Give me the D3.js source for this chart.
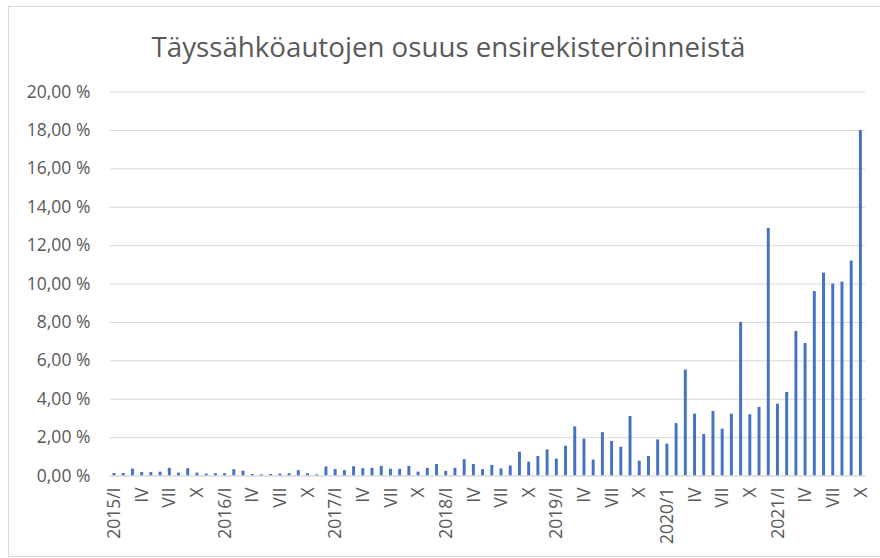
<!DOCTYPE html>
<html>
<head>
<meta charset="utf-8">
<script src="https://cdn.jsdelivr.net/npm/d3@7"></script>
<style>
  body { margin: 0; background: #fff; }
  text { font-family: "Open Sans", sans-serif; fill: #595959; }
</style>
</head>
<body>
<div id="chart"></div>
<script>
// chart data: share of full-electric cars in first registrations (%)
var years = ["2015", "2016", "2017", "2018", "2019", "2020", "2021"];
var months = ["I", "II", "III", "IV", "V", "VI", "VII", "VIII", "IX", "X", "XI", "XII"];

var v2015 = [0.13, 0.13, 0.36, 0.18, 0.18, 0.20, 0.40, 0.15, 0.38, 0.15, 0.10, 0.12];
var v2016 = [0.12, 0.33, 0.25, 0.08, 0.06, 0.08, 0.10, 0.12, 0.28, 0.12, 0.06, 0.47];
var v2017 = [0.34, 0.28, 0.48, 0.38, 0.40, 0.50, 0.35, 0.35, 0.50, 0.20, 0.40, 0.60];
var v2018 = [0.24, 0.40, 0.85, 0.60, 0.33, 0.55, 0.37, 0.52, 1.24, 0.72, 1.02, 1.36];
var v2019 = [0.88, 1.55, 2.56, 1.92, 0.83, 2.26, 1.80, 1.50, 3.10, 0.77, 1.02, 1.88];
var v2020 = [1.66, 2.73, 5.52, 3.22, 2.16, 3.36, 2.44, 3.22, 8.00, 3.19, 3.57, 12.90];
var v2021 = [3.74, 4.35, 7.53, 6.90, 9.61, 10.57, 10.00, 10.10, 11.20, 18.00];

// y axis ticks
var yTicks = [0, 2, 4, 6, 8, 10, 12, 14, 16, 18, 20];

// months that get a label on the x axis (year label on January)
var shownMonths = ["I", "IV", "VII", "X"];
var janLabel = {"2020": "2020/1"};

// build one row per month
var series = [v2015, v2016, v2017, v2018, v2019, v2020, v2021];
var data = [];
years.forEach(function(y, i) {
  series[i].forEach(function(v, j) {
    var lab = "";
    if (j == 0) lab = janLabel[y] || (y + "/I");
    else if (shownMonths.indexOf(months[j]) >= 0) lab = months[j];
    data.push({key: y + "/" + months[j], label: lab, value: v});
  });
});

var W = 880, H = 558;
var margin = {top: 91.6, right: 15, bottom: 82.5, left: 109.4},
    width = W - margin.left - margin.right,
    height = H - margin.top - margin.bottom;

var svg = d3.select("#chart")
  .append("svg")
    .attr("width", W)
    .attr("height", H);

// chart border (right side runs off the picture)
svg.append("rect")
  .attr("x", 8.5).attr("y", 6.5)
  .attr("width", 900).attr("height", 550)
  .attr("fill", "none")
  .attr("stroke", "#d9d9d9");

// title
svg.append("text")
  .attr("x", 448.5)
  .attr("y", 57)
  .attr("text-anchor", "middle")
  .style("font-size", "27.7px")
  .text("Täyssähköautojen osuus ensirekisteröinneistä");

var g = svg.append("g")
  .attr("transform", "translate(" + margin.left + "," + margin.top + ")");

var x = d3.scaleBand()
  .domain(data.map(function(d) { return d.key; }))
  .range([0, width])
  .paddingInner(0.68)
  .paddingOuter(0.34);

var y = d3.scaleLinear()
  .domain([0, 20])
  .range([height, 0]);

// gridlines + y labels
var yAxis = g.append("g")
  .call(d3.axisLeft(y)
    .tickValues(yTicks)
    .tickSize(-width)
    .tickPadding(19)
    .tickFormat(function(d) { return d.toFixed(2).replace(".", ",") + " %"; }));
yAxis.select(".domain").remove();
yAxis.selectAll(".tick line").attr("stroke", "#d9d9d9");
yAxis.selectAll(".tick text")
  .style("font-size", "17.5px")
  .attr("fill", "#595959");

// bars
g.append("g")
  .selectAll("rect")
  .data(data)
  .enter().append("rect")
    .attr("x", function(d) { return x(d.key); })
    .attr("y", function(d) { return y(d.value); })
    .attr("width", x.bandwidth())
    .attr("height", function(d) { return height - y(d.value); })
    .attr("fill", "#4472c4");

// x axis
var labels = {};
data.forEach(function(d) { labels[d.key] = d.label; });
var xAxis = g.append("g")
  .attr("transform", "translate(0," + height + ")")
  .call(d3.axisBottom(x).tickSize(0).tickFormat(function(k) { return labels[k]; }));
xAxis.select(".domain").attr("stroke", "#d9d9d9");
xAxis.selectAll(".tick text")
  .style("font-size", "17.5px")
  .attr("fill", "#595959")
  .attr("text-anchor", "end")
  .attr("transform", "rotate(-90)")
  .attr("x", -12)
  .attr("y", 0)
  .attr("dy", "0.35em");
</script>
</body>
</html>
